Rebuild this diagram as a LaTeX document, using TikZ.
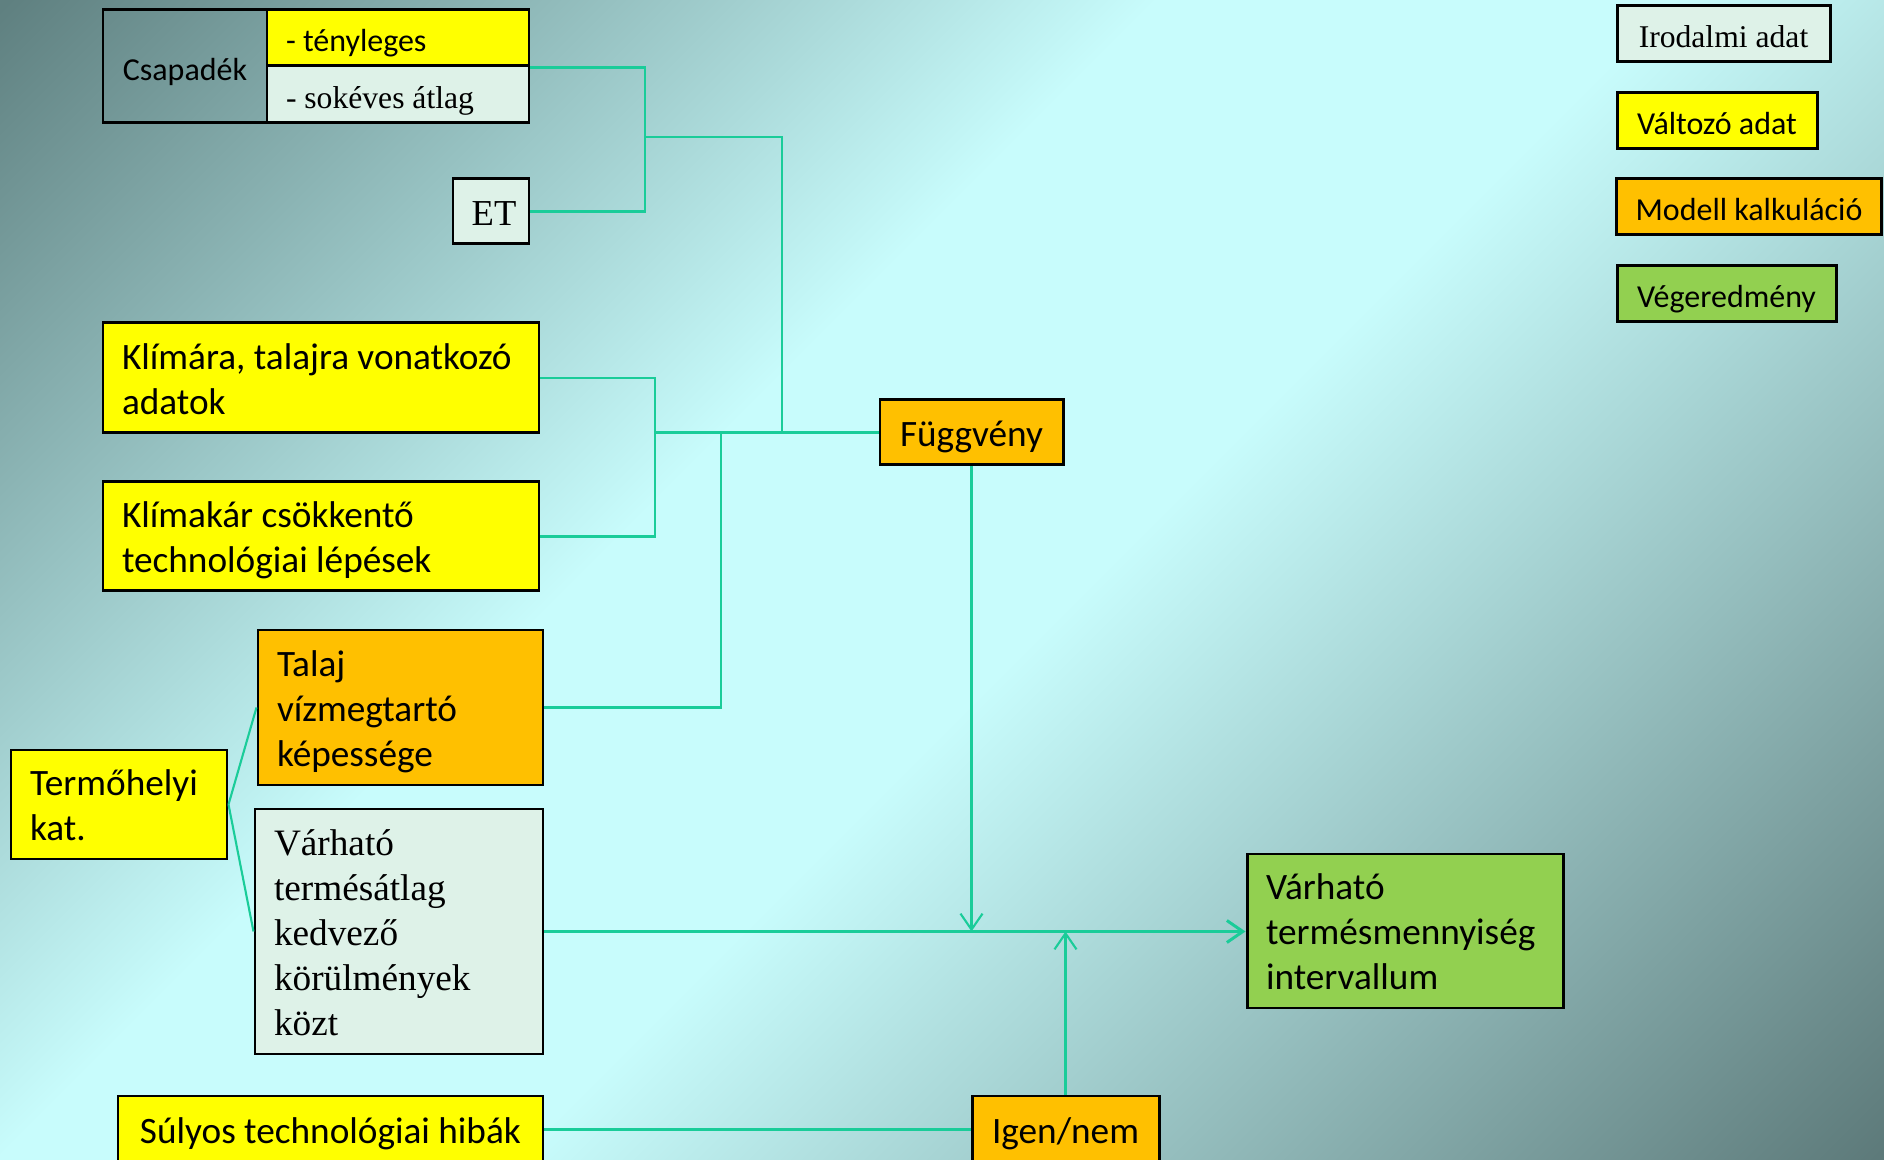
\documentclass[tikz,border=0pt]{standalone}
\usepackage{fontspec}
\setmainfont{Carlito}
\newfontfamily\timesfont{Liberation Serif}
\usepackage{xcolor}
\usepackage{tikz}
\usetikzlibrary{arrows.meta}

\definecolor{bgdarka}{RGB}{95,128,128}
\definecolor{bgdarkb}{RGB}{93,122,122}
\definecolor{bglight}{RGB}{200,252,252}
\definecolor{litcol}{RGB}{222,242,232}
\definecolor{varcol}{RGB}{255,255,0}
\definecolor{calccol}{RGB}{255,192,0}
\definecolor{rescol}{RGB}{146,208,80}
\definecolor{conncol}{RGB}{26,204,153}

\pgfdeclareverticalshading{bgshade}{100bp}{color(0bp)=(bgdarka); color(14.65bp)=(bgdarka); color(41.5bp)=(bglight); color(53.5bp)=(bglight); color(85.35bp)=(bgdarkb); color(100bp)=(bgdarkb)}

\newcommand\boxstrut{\rule[-2.3pt]{0pt}{12.5pt}}

\tikzset{
  box/.style={draw=black, line width=0.85pt, inner xsep=0.19cm, inner ysep=0pt,
    font=\fontsize{10.6}{12.8}\selectfont, execute at begin node=\boxstrut, execute at end node=\boxstrut},
  lit/.style={box, fill=litcol, font=\timesfont\fontsize{10.6}{12.8}\selectfont},
  var/.style={box, fill=varcol},
  calc/.style={box, fill=calccol},
  res/.style={box, fill=rescol},
  smallcal/.style={font=\fontsize{9.1}{11}\selectfont},
  smalltimes/.style={font=\timesfont\fontsize{9}{11}\selectfont},
  conn/.style={draw=conncol, line width=0.6pt},
  arr/.style={conn, -{Straight Barb[length=1.6mm, width=2.2mm]}},
}

\begin{document}
\begin{tikzpicture}
\useasboundingbox (0,0) rectangle (18.84,11.60);
\clip (0,0) rectangle (18.84,11.60);
\shade[shading=bgshade, shading angle=-135] (0,0) rectangle (18.84,11.60);

\node[box, smallcal, minimum width=1.64cm, minimum height=1.13cm] (csap) at (1.85,10.935) {Csapadék};
\node[var, smallcal, text width=2.24cm, align=flush left, minimum height=0.56cm] (teny) at (3.98,11.22) {- tényleges};
\node[lit, smalltimes, text width=2.24cm, align=flush left, minimum height=0.57cm] (sokev) at (3.98,10.655) {- sokéves átlag};
\node[lit, font=\timesfont\fontsize{10.4}{12.8}\selectfont, inner xsep=0pt, minimum width=0.76cm, minimum height=0.65cm] (et) at (4.91,9.485) {\hspace{0.06cm}ET};

\node[var, text width=3.98cm, align=flush left, minimum height=1.10cm] (klima) at (3.21,7.82) {Klímára, talajra vonatkozó\\adatok};
\node[var, text width=3.98cm, align=flush left, minimum height=1.09cm] (klimakar) at (3.21,6.235) {Klímakár csökkentő\\technológiai lépések};
\node[calc, minimum width=1.83cm, minimum height=0.65cm] (fuggv) at (9.715,7.275) {Függvény};
\node[calc, text width=2.47cm, align=flush left, minimum height=1.55cm] (talaj) at (4.005,4.525) {Talaj\\vízmegtartó\\képessége};
\node[var, text width=1.78cm, align=flush left, minimum height=1.09cm] (termo) at (1.19,3.555) {Termőhelyi\\kat.};
\node[lit, text width=2.50cm, align=flush left, minimum height=2.45cm] (varhato) at (3.99,2.285) {Várható\\termésátlag\\kedvező\\körülmények\\közt};
\node[res, text width=2.78cm, align=flush left, minimum height=1.54cm] (eredm) at (14.05,2.29) {Várható\\termésmennyiség\\intervallum};
\node[calc, minimum width=1.87cm, minimum height=0.67cm] (igen) at (10.655,0.305) {Igen/nem};
\node[var, minimum width=4.25cm, minimum height=0.67cm] (sulyos) at (3.305,0.305) {Súlyos technológiai hibák};

\node[lit, smalltimes, minimum width=2.13cm, minimum height=0.56cm] (irod) at (17.235,11.26) {Irodalmi adat};
\node[var, smallcal, minimum width=2.00cm, minimum height=0.56cm] (valt) at (17.17,10.39) {Változó adat};
\node[calc, smallcal, minimum width=2.64cm, minimum height=0.56cm] (modell) at (17.49,9.53) {Modell kalkuláció};
\node[res, smallcal, minimum width=2.19cm, minimum height=0.56cm] (veg) at (17.265,8.66) {Végeredmény};

\coordinate (jc) at (6.45,10.23);
\coordinate (jf) at (7.82,7.275);
\coordinate (jk) at (6.55,7.275);
\coordinate (jt) at (7.21,7.275);

\draw[conn] (teny.south east) -| (jc) |- (et.east);
\draw[conn] (jc) -| (jf);
\draw[conn] (klima.east) -| (jk) |- (klimakar.east);
\draw[conn] (jk) -- (fuggv.west);
\draw[conn] (jt) |- (talaj.east);
\draw[conn] (termo.east) -- (talaj.west);
\draw[conn] (termo.east) -- (varhato.west);
\draw[arr] (fuggv.south) -- (fuggv.south |- varhato.east);
\draw[arr, line width=0.85pt] (varhato.east) -- (varhato.east -| eredm.west);
\draw[arr] (igen.north) -- (igen.north |- varhato.east);
\draw[conn] (sulyos.east) -- (igen.west);
\end{tikzpicture}
\end{document}
